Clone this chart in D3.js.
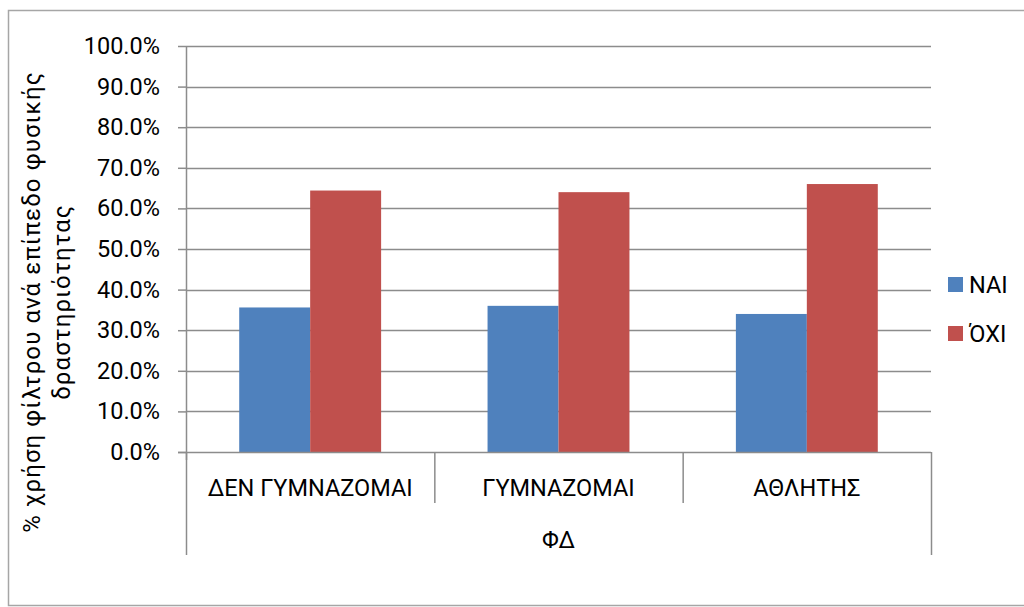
<!DOCTYPE html>
<html>
<head>
<meta charset="utf-8">
<script src="https://cdn.jsdelivr.net/npm/d3@7"></script>
<style>
  body { margin: 0; background: #fff; }
  svg text { fill: #000; }
</style>
</head>
<body>
<svg id="chart" width="1024" height="607"></svg>
<script>
const categories = ["ΔΕΝ ΓΥΜΝΑΖΟΜΑΙ", "ΓΥΜΝΑΖΟΜΑΙ", "ΑΘΛΗΤΗΣ"];
const seriesNames = ["ΝΑΙ", "ΌΧΙ"];
const naiValues = [0.356, 0.360, 0.340];
const oxiValues = [0.644, 0.640, 0.660];
const yTicks = [0, 0.1, 0.2, 0.3, 0.4, 0.5, 0.6, 0.7, 0.8, 0.9, 1.0];
const seriesColors = ["#4F81BD", "#C0504D"];
const groupTitle = "ΦΔ";
const yTitleLines = ["% χρήση φίλτρου ανά επίπεδο φυσικής", "δραστηριότητας"];

const svg = d3.select("#chart").style("font-family", "Roboto, 'Liberation Sans', sans-serif");
const fs = 23.5;
const gridColor = "#8c8c8c";

// outer border
svg.append("rect").attr("x", 8.5).attr("y", 10.5).attr("width", 1030).attr("height", 595)
  .attr("fill", "none").attr("stroke", "#a6a6a6").attr("stroke-width", 1.5);

const pLeft = 186, pRight = 931, pTop = 46, pBottom = 452;
const x = d3.scaleBand().domain(categories).range([pLeft, pRight]).paddingInner(0).paddingOuter(0);
const xs = d3.scaleBand().domain(seriesNames).range([0, x.bandwidth()]).paddingInner(0).paddingOuter(0.75);
const y = d3.scaleLinear().domain([0, 1]).range([pBottom, pTop]);

// gridlines
svg.append("g").selectAll("line").data(yTicks.filter(d => d > 0)).join("line")
  .attr("x1", pLeft).attr("x2", pRight)
  .attr("y1", d => Math.round(y(d)) + 0.5).attr("y2", d => Math.round(y(d)) + 0.5)
  .attr("stroke", gridColor).attr("stroke-width", 1.5);

// y axis
const yAxis = d3.axisLeft(y).tickValues(yTicks).tickFormat(d3.format(".1%")).tickSize(8).tickPadding(18);
const yg = svg.append("g").attr("transform", `translate(${pLeft},0)`).call(yAxis)
  .attr("font-family", null).attr("font-size", null);
yg.select(".domain").attr("stroke", gridColor).attr("stroke-width", 1.5).attr("d", `M0.5,${pTop}V${pBottom + 8}`);
yg.selectAll(".tick line").attr("stroke", gridColor).attr("stroke-width", 1.5);
yg.selectAll(".tick text").style("font-size", fs + "px").attr("fill", "#000");

// bars
const data = [];
categories.forEach((c, i) => {
  data.push({ cat: c, s: seriesNames[0], v: naiValues[i] });
  data.push({ cat: c, s: seriesNames[1], v: oxiValues[i] });
});
svg.append("g").selectAll("rect").data(data).join("rect")
  .attr("x", d => x(d.cat) + xs(d.s))
  .attr("width", xs.bandwidth())
  .attr("y", d => y(d.v))
  .attr("height", d => y(0) - y(d.v))
  .attr("fill", d => seriesColors[seriesNames.indexOf(d.s)]);

// x axis line
svg.append("line").attr("x1", pLeft - 8).attr("x2", pRight).attr("y1", pBottom + 0.5).attr("y2", pBottom + 0.5)
  .attr("stroke", gridColor).attr("stroke-width", 1.5);

// category separators
const seps = [pLeft, ...categories.map(c => x(c) + x.bandwidth())];
svg.append("g").selectAll("line").data(seps).join("line")
  .attr("x1", d => d + 0.5).attr("x2", d => d + 0.5)
  .attr("y1", pBottom)
  .attr("y2", (d, i) => (i === 0 || i === seps.length - 1) ? 555 : 503)
  .attr("stroke", gridColor).attr("stroke-width", 1.5);

// category labels
svg.append("g").selectAll("text").data(categories).join("text")
  .attr("x", d => x(d) + x.bandwidth() / 2).attr("y", 496)
  .attr("text-anchor", "middle").style("font-size", fs + "px").text(d => d);

// group title
svg.append("text").attr("x", (pLeft + pRight) / 2).attr("y", 548)
  .attr("text-anchor", "middle").style("font-size", fs + "px").text(groupTitle);

// y title
const yt = svg.append("text").attr("transform", "translate(40,302) rotate(-90)")
  .attr("text-anchor", "middle").style("font-size", "24px").style("letter-spacing", "1.1px");
yt.selectAll("tspan").data(yTitleLines).join("tspan")
  .attr("x", 0).attr("dy", (d, i) => i === 0 ? 0 : 30).text(d => d);

// legend
const lg = svg.append("g").selectAll("g").data(seriesNames).join("g")
  .attr("transform", (d, i) => `translate(948,${277 + i * 49})`);
lg.append("rect").attr("width", 15).attr("height", 15).attr("fill", (d, i) => seriesColors[i]);
lg.append("text").attr("x", 21).attr("y", 16).style("font-size", fs + "px").text(d => d);
</script>
</body>
</html>
